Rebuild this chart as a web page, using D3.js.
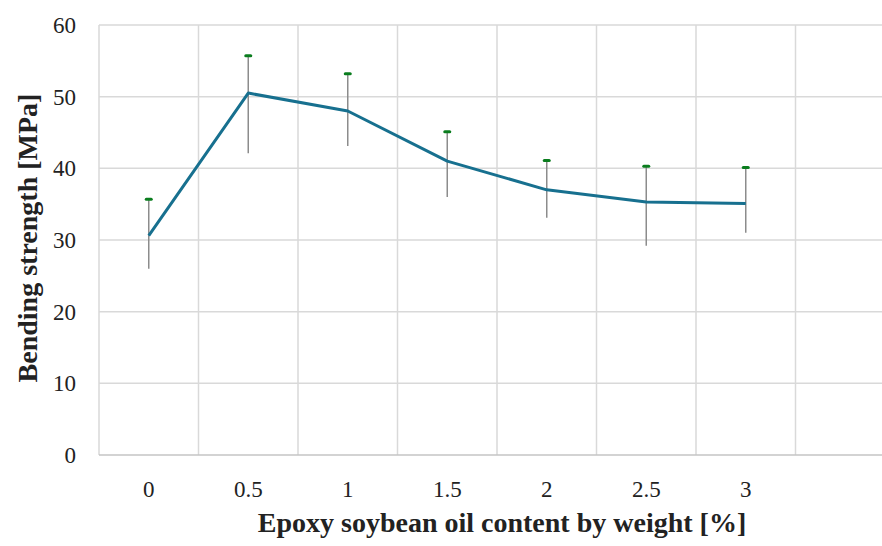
<!DOCTYPE html>
<html>
<head>
<meta charset="utf-8">
<script src="https://cdn.jsdelivr.net/npm/d3@7"></script>
<style>
  body { margin: 0; background: #fff; }
  text { font-family: "Liberation Serif", serif; fill: #222; }
</style>
</head>
<body>
<svg id="chart" width="882" height="546"></svg>
<script>
const categories = ["0", "0.5", "1", "1.5", "2", "2.5", "3"];
const strength = [30.6, 50.5, 48.0, 41.0, 37.0, 35.3, 35.1];
const upperErr = [35.7, 55.7, 53.2, 45.1, 41.1, 40.3, 40.1];
const lowerErr = [26.0, 42.1, 43.1, 36.0, 33.1, 29.2, 31.0];
const yTicks = [0, 10, 20, 30, 40, 50, 60];

const LINE_COLOR = "#17708f";
const GRID_COLOR = "#d9d9d9";

function drawChart() {
    const svg = d3.select("#chart");
    const left = 99, top = 25, bottom = 455, right = 895;

    // one empty slot after the last category, like the source sheet
    const x = d3.scaleBand()
        .domain(categories.concat([""]))
        .range([left, right])
        .padding(0);
    const y = d3.scaleLinear().domain([0, 60]).range([bottom, top]);
    const cx = (i) => x(categories[i]) + x.bandwidth() / 2;

    // horizontal grid
    svg.append("g")
        .selectAll("line")
        .data(yTicks.filter(t => t > 0))
        .enter().append("line")
        .attr("x1", left).attr("x2", right)
        .attr("y1", d => y(d)).attr("y2", d => y(d))
        .attr("stroke", GRID_COLOR)
        .attr("stroke-width", 1.5);

    // vertical grid at band edges
    svg.append("g")
        .selectAll("line")
        .data(x.domain())
        .enter().append("line")
        .attr("x1", d => x(d)).attr("x2", d => x(d))
        .attr("y1", top).attr("y2", bottom)
        .attr("stroke", GRID_COLOR)
        .attr("stroke-width", 1.5);

    // bottom axis line
    svg.append("line")
        .attr("x1", left).attr("x2", right)
        .attr("y1", bottom).attr("y2", bottom)
        .attr("stroke", "#c4c4c4")
        .attr("stroke-width", 1.5);

    // y tick labels
    svg.append("g")
        .selectAll("text")
        .data(yTicks)
        .enter().append("text")
        .attr("x", 76)
        .attr("y", d => y(d))
        .attr("dy", "0.35em")
        .attr("text-anchor", "end")
        .attr("font-size", 23)
        .text(d => d);

    // x tick labels
    svg.append("g")
        .selectAll("text")
        .data(categories)
        .enter().append("text")
        .attr("x", (d, i) => cx(i))
        .attr("y", 497)
        .attr("text-anchor", "middle")
        .attr("font-size", 23)
        .text(d => d);

    // error bars
    const errs = svg.append("g")
        .selectAll("g")
        .data(categories)
        .enter().append("g");
    errs.append("line")
        .attr("x1", (d, i) => cx(i)).attr("x2", (d, i) => cx(i))
        .attr("y1", (d, i) => y(lowerErr[i]))
        .attr("y2", (d, i) => y(upperErr[i]))
        .attr("stroke", "#8c8c8c")
        .attr("stroke-width", 1.5);
    errs.append("line")
        .attr("x1", (d, i) => cx(i) - 2.5).attr("x2", (d, i) => cx(i) + 2.5)
        .attr("y1", (d, i) => y(upperErr[i]))
        .attr("y2", (d, i) => y(upperErr[i]))
        .attr("stroke", "#0a7d1e")
        .attr("stroke-width", 3)
        .attr("stroke-linecap", "round");

    // main line
    const line = d3.line()
        .x((d, i) => cx(i))
        .y(d => y(d));
    svg.append("path")
        .datum(strength)
        .attr("d", line)
        .attr("fill", "none")
        .attr("stroke", LINE_COLOR)
        .attr("stroke-width", 3)
        .attr("stroke-linejoin", "round");

    // axis titles
    svg.append("text")
        .attr("x", (left + right) / 2 + 5)
        .attr("y", 532)
        .attr("text-anchor", "middle")
        .attr("font-size", 28)
        .attr("font-weight", "bold")
        .text("Epoxy soybean oil content by weight [%]");

    svg.append("text")
        .attr("transform", `translate(37, ${(93 + 383) / 2}) rotate(-90)`)
        .attr("text-anchor", "middle")
        .attr("font-size", 28)
        .attr("font-weight", "bold")
        .text("Bending strength [MPa]");
}

drawChart();
</script>
</body>
</html>
